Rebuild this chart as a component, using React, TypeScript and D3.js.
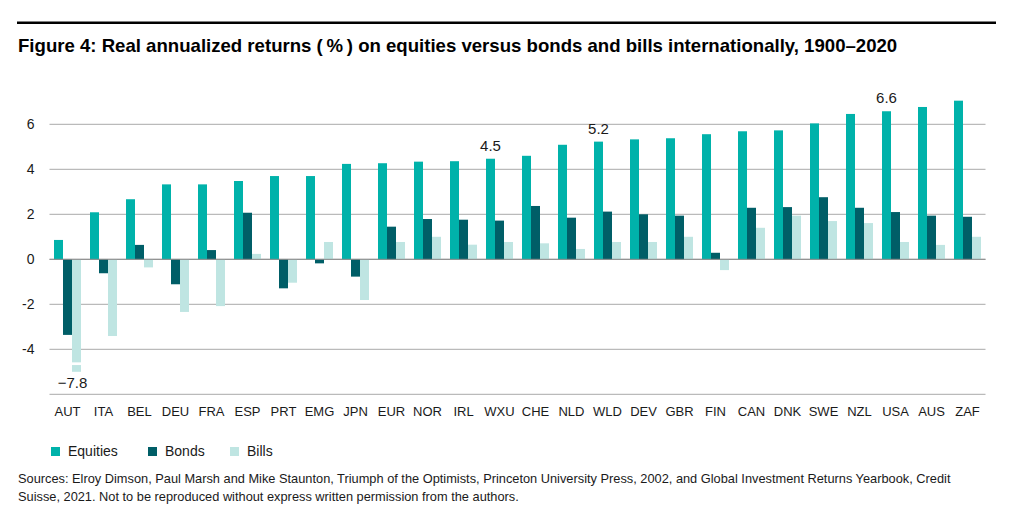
import React from "react";
import * as d3 from "d3";

const categories = ["AUT","ITA","BEL","DEU","FRA","ESP","PRT","EMG","JPN","EUR","NOR","IRL","WXU","CHE","NLD","WLD","DEV","GBR","FIN","CAN","DNK","SWE","NZL","USA","AUS","ZAF"];
const equities = [0.86,2.09,2.67,3.33,3.33,3.48,3.70,3.70,4.24,4.27,4.34,4.36,4.47,4.60,5.09,5.23,5.33,5.38,5.56,5.69,5.73,6.04,6.46,6.58,6.77,7.05];
const bonds = [-3.36,-0.62,0.64,-1.11,0.41,2.07,-1.29,-0.18,-0.77,1.45,1.79,1.76,1.72,2.37,1.85,2.12,2.00,1.94,0.29,2.29,2.32,2.76,2.29,2.10,1.94,1.89];
const bills = [-7.8,-3.41,-0.36,-2.34,-2.08,0.24,-1.04,0.77,-1.81,0.77,1.00,0.65,0.77,0.71,0.46,0.77,0.77,1.00,-0.48,1.40,1.94,1.70,1.61,0.77,0.64,1.00];
const seriesNames = ["Equities","Bonds","Bills"];
const yTicks = [6,4,2,0,-2,-4,-6];
const equityLabels = ["WXU","WLD","USA"];
const title = "Figure 4: Real annualized returns (\u2009%\u2009) on equities versus bonds and bills internationally, 1900\u20132020";
const sourceLines = [
  "Sources: Elroy Dimson, Paul Marsh and Mike Staunton, Triumph of the Optimists, Princeton University Press, 2002, and Global Investment Returns Yearbook, Credit",
  "Suisse, 2021. Not to be reproduced without express written permission from the authors.",
];

// axis break settings for values beyond the axis floor
const breakFloor = -5.0;
const breakGap = [-4.58, -4.7];

const colors = ["#00b2aa", "#005e67", "#bfe5e2"];
const FONT = "'Liberation Sans', Arial, Helvetica, sans-serif";

export default function App() {
  const W = 1013, H = 521;
  const x0 = d3.scaleBand<string>().domain(categories).range([49.5, 985.5]).paddingInner(0.25).paddingOuter(0.125);
  const x1 = d3.scaleBand<string>().domain(seriesNames).range([0, x0.bandwidth()]);
  const y = d3.scaleLinear().domain([-6, 8]).range([394.3, 79.3]);
  const series = [equities, bonds, bills];
  const fmt = (v: number) => (v < 0 ? "\u2212" : "") + Math.abs(v).toFixed(1);

  const bars: React.ReactNode[] = [];
  const labels: React.ReactNode[] = [];
  categories.forEach((c, i) => {
    series.forEach((vals, s) => {
      const v = vals[i];
      const broken = v < breakFloor;
      const vd = broken ? breakFloor : v;
      const bx = (x0(c) as number) + (x1(seriesNames[s]) as number);
      const top = y(Math.max(0, vd));
      const bot = y(Math.min(0, vd));
      bars.push(<rect key={`${c}-${s}`} x={bx} y={top} width={x1.bandwidth()} height={bot - top} fill={colors[s]} />);
      if (broken) {
        bars.push(<rect key={`${c}-${s}-gap`} x={bx - 1} y={y(breakGap[0])} width={x1.bandwidth() + 2} height={y(breakGap[1]) - y(breakGap[0])} fill="#fff" />);
        labels.push(<text key={`${c}-${s}-lab`} x={bx + x1.bandwidth() / 2 - 4} y={y(breakFloor) + 16} textAnchor="middle" fontSize={15} fill="#1a1a1a">{fmt(v)}</text>);
      }
    });
    if (equityLabels.includes(c)) {
      const bx = (x0(c) as number) + (x1("Equities") as number) + x1.bandwidth() / 2;
      labels.push(<text key={`${c}-eq-lab`} x={bx} y={y(equities[i]) - 8} textAnchor="middle" fontSize={15} fill="#1a1a1a">{equities[i].toFixed(1)}</text>);
    }
  });

  return (
    <svg width={W} height={H} style={{ position: "absolute", left: 0, top: 0, fontFamily: FONT }}>
      <rect width={W} height={H} fill="#fff" />
      <rect x={17} y={21.5} width={979} height={2.5} fill="#000" />
      <text x={18} y={52} fontSize={18.6} fontWeight="bold" fill="#000">{title}</text>
      {yTicks.map((t) => (
        <g key={t}>
          <line x1={49.5} x2={985.5} y1={y(t)} y2={y(t)} stroke="#a9a9a9" strokeWidth={1} />
          {t !== -6 && (
            <text x={34.5} y={y(t)} dy="0.35em" textAnchor="end" fontSize={14} fill="#1a1a1a">{String(t)}</text>
          )}
        </g>
      ))}
      {bars}
      <line x1={49.5} x2={985.5} y1={y(0)} y2={y(0)} stroke="#8a8a8a" strokeWidth={1} />
      {labels}
      {categories.map((c) => (
        <text key={c} x={(x0(c) as number) + x0.bandwidth() / 2} y={416} textAnchor="middle" fontSize={13} fill="#1a1a1a">{c}</text>
      ))}
      {seriesNames.map((n, s) => {
        const lx = [51, 148, 230][s];
        return (
          <g key={n}>
            <rect x={lx} y={447} width={9} height={9} fill={colors[s]} />
            <text x={lx + 17} y={456} fontSize={14} fill="#1a1a1a">{n}</text>
          </g>
        );
      })}
      {sourceLines.map((l, k) => (
        <text key={k} x={18} y={483 + k * 17.5} fontSize={12.8} fill="#1a1a1a">{l}</text>
      ))}
    </svg>
  );
}
